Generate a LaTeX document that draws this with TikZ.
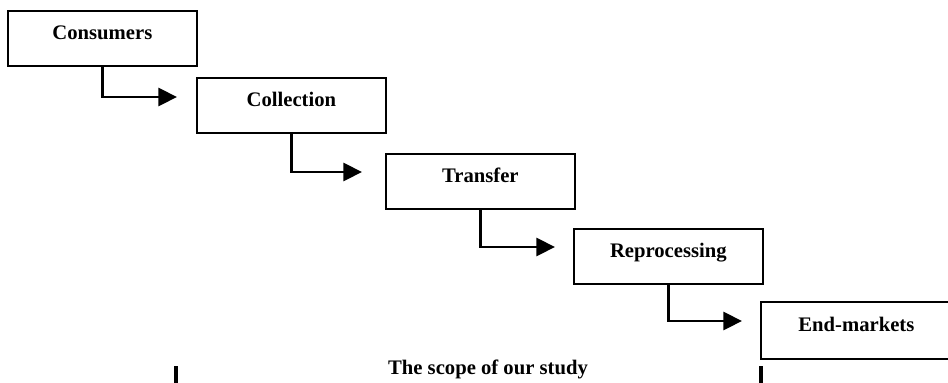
\documentclass[tikz,border=0pt]{standalone}
\usepackage{fontspec}
\setmainfont{Liberation Serif}
\usetikzlibrary{arrows.meta,calc}

\tikzset{
  stagebox/.style={draw, line width=1.3pt, anchor=north west,
    minimum width=141.75pt, minimum height=41.25pt, inner sep=0pt,
    text height=9pt, text depth=7.7pt,
    font=\fontsize{15.5pt}{18pt}\selectfont\bfseries},
  openstage/.style={stagebox, draw=none},
  frame/.style={line width=1.3pt},
  flow/.style={line width=2.2pt, line cap=butt,
    -{Triangle[length=14pt, width=13.5pt]}},
  scopetick/.style={line width=2.3pt},
  caption/.style={font=\fontsize{15.5pt}{18pt}\selectfont\bfseries,
    anchor=base, inner sep=0pt}
}

\begin{document}
\begin{tikzpicture}[x=0.75pt, y=-0.75pt]
  % page area (one unit = one pixel of the 948 x 382 layout)
  \clip (0,0) rectangle (948,382);
  \fill[white] (0,0) rectangle (948,382);

  % the five stages of the chain, stepping down to the right
  \node[stagebox] (cons) at (7,10)    {Consumers};
  \node[stagebox] (coll) at (196,77)  {Collection};
  \node[stagebox] (tran) at (385,153) {Transfer};
  \node[stagebox] (repr) at (573,228) {Reprocessing};
  \node[openstage] (endm) at (761,302) {End-markets};
  % last box runs on past the right margin
  \draw[frame] ($(endm.north east)+(20,0)$) -- (endm.north west)
    -- (endm.south west) -- ($(endm.south east)+(20,0)$);

  % elbow connectors between consecutive stages
  \draw[flow] (cons.south) |- ($(coll.north west)+(-19,20)$);
  \draw[flow] (coll.south) |- ($(tran.north west)+(-23,19)$);
  \draw[flow] (tran.south) |- ($(repr.north west)+(-18,19)$);
  \draw[flow] (repr.south) |- ($(endm.north west)+(-19,19)$);

  % extent of the study
  \node[caption] (scope) at (488,374) {The scope of our study};
  \draw[scopetick] (176,366) -- (176,384);
  \draw[scopetick] (761,366) -- (761,384);
\end{tikzpicture}
\end{document}
